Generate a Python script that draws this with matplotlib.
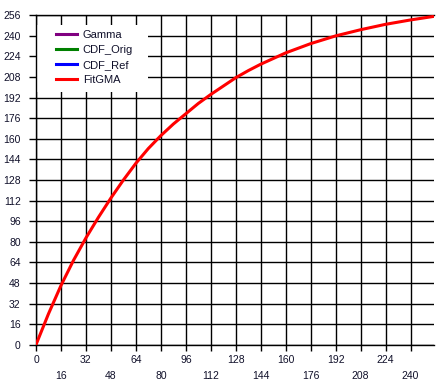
import matplotlib
matplotlib.use('Agg')
from matplotlib import pyplot as plt
from matplotlib.patches import Rectangle

# values
fit_x = [0, 8, 16, 24, 32, 40, 48, 56, 64, 72, 80, 88, 96, 104, 112, 120, 128, 136, 144,
         160, 176, 192, 208, 224, 240, 254]
fit_y = [0, 24, 46, 65.5, 83, 99, 114, 128, 141, 152.5, 162.5, 171.5, 179.5, 187.5, 194.5, 201, 207.5, 213, 218,
         226.8, 234, 240, 244.8, 249, 252.4, 255]
gamma_x, gamma_y = [], []
orig_x, orig_y = [], []
ref_x, ref_y = [], []

series_names = ['Gamma', 'CDF_Orig', 'CDF_Ref', 'FitGMA']
series_colors = ['#800080', '#008000', '#0000ff', '#ff0000']
y_ticks = list(range(0, 257, 16))
x_major = list(range(0, 225, 32))
x_minor = list(range(16, 241, 32))

plt.rcParams['font.family'] = ['Liberation Sans', 'DejaVu Sans']
plt.rcParams['font.size'] = 7.5

fig = plt.figure(figsize=(4.41, 3.88), dpi=100)
ax = fig.add_axes([36 / 441, 1 - 344.7 / 388, 398 / 441, 329.4 / 388])

ax.plot(gamma_x, gamma_y, color=series_colors[0], lw=2.2, label=series_names[0])
ax.plot(orig_x, orig_y, color=series_colors[1], lw=2.2, label=series_names[1])
ax.plot(ref_x, ref_y, color=series_colors[2], lw=2.2, label=series_names[2])
ax.plot(fit_x, fit_y, color=series_colors[3], lw=2.2, label=series_names[3], zorder=4)

ax.set_xlim(0, 255)
ax.set_ylim(0, 256)
ax.set_yticks(y_ticks)
ax.set_xticks(x_major)
ax.set_xticks(x_minor, minor=True)
ax.set_xticklabels([str(v) for v in x_major])
ax.set_xticklabels([str(v) for v in x_minor], minor=True)
ax.grid(True, which='both', color='black', lw=1.0)
ax.set_axisbelow(True)
ax.tick_params(axis='y', direction='out', length=5, width=1.0, pad=6, labelcolor='#10102a')
ax.tick_params(axis='x', which='major', direction='out', length=4.3, width=1.0, pad=3.2,
               labelcolor='#10102a')
ax.tick_params(axis='x', which='minor', direction='out', length=4.3, width=1.0, pad=14.8,
               labelcolor='#10102a')
for side in ['left', 'bottom', 'top']:
    ax.spines[side].set_linewidth(1.0)
ax.spines['right'].set_visible(False)

# white area behind the legend
ax.add_patch(Rectangle((1 / 398, (344.7 - 92) / 329.4), 111 / 398, 67 / 329.4,
                       transform=ax.transAxes, facecolor='white', edgecolor='none', zorder=2.5))

leg = ax.legend(loc='upper left', bbox_to_anchor=((56 - 36) / 398, (344.7 - 30) / 329.4),
                frameon=False, handlelength=1.9, handletextpad=0.5, labelspacing=0.45,
                borderpad=0.0, borderaxespad=0.0, fontsize=8)
leg.set_zorder(5)
for t in leg.get_texts():
    t.set_color('#10102a')

fig.savefig('out.png', dpi=100)
